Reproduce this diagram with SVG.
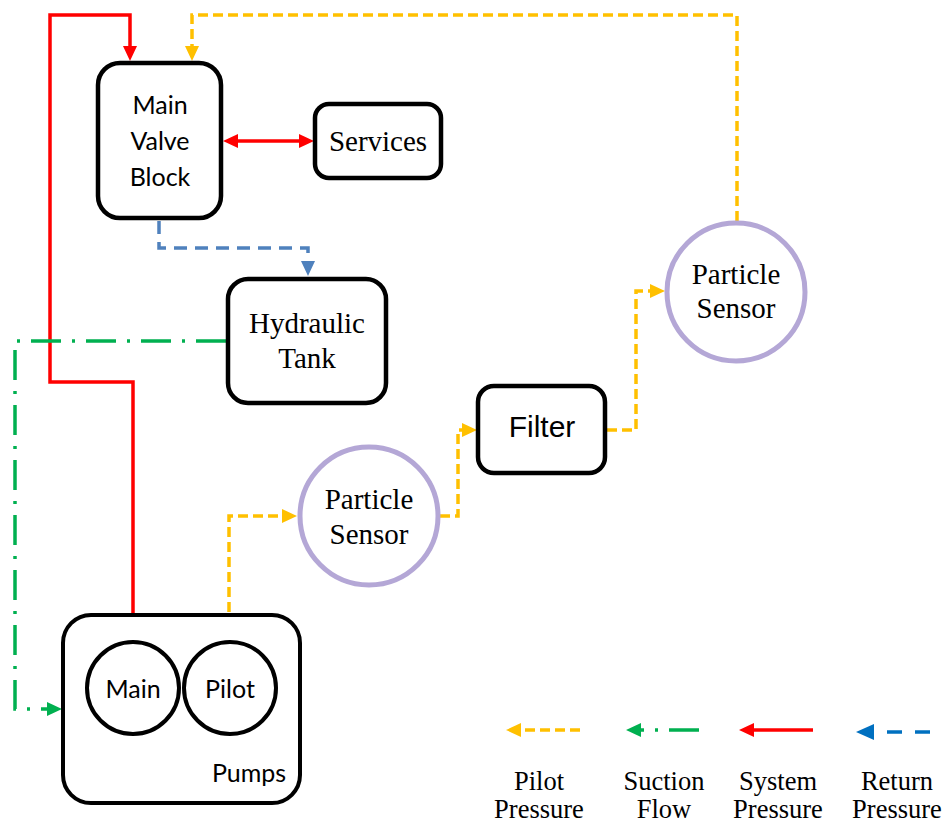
<svg xmlns="http://www.w3.org/2000/svg" width="947" height="825" viewBox="0 0 947 825">
  <style>
    .box { fill: #fff; stroke: #000; stroke-width: 4.5; }
    .pump { fill: #fff; stroke: #000; stroke-width: 4; }
    .sensor { fill: #fff; stroke: #B4A7D6; stroke-width: 5; }
    .sans { font-family: Lato, "Open Sans", sans-serif; font-size: 25px; fill: #000; text-anchor: middle; }
    .serif { font-family: "Liberation Serif", "Times New Roman", serif; font-size: 29px; fill: #000; text-anchor: middle; }
    .key { font-family: "Liberation Serif", "Times New Roman", serif; font-size: 26.5px; fill: #000; text-anchor: middle; }
    .arial { font-family: "Liberation Sans", Arial, sans-serif; font-size: 30px; fill: #000; text-anchor: middle; }
    .sys { fill: none; stroke: #FF0000; stroke-width: 3.5; }
    .pilot { fill: none; stroke: #FFC000; stroke-width: 3.5; stroke-dasharray: 10 5; }
    .ret { fill: none; stroke: #4F81BD; stroke-width: 3.5; stroke-dasharray: 13 8; }
    .suc { fill: none; stroke: #00B050; stroke-width: 3.5; stroke-dasharray: 30 11 3 11; }
  </style>
  <defs>
    <marker id="ah-red" markerUnits="userSpaceOnUse" markerWidth="15" markerHeight="14" refX="1" refY="7" orient="auto-start-reverse">
      <path d="M0,0 L15,7 L0,14 z" fill="#FF0000"/>
    </marker>
    <marker id="ah-yel" markerUnits="userSpaceOnUse" markerWidth="15" markerHeight="14" refX="1" refY="7" orient="auto">
      <path d="M0,0 L15,7 L0,14 z" fill="#FFC000"/>
    </marker>
    <marker id="ah-blu" markerUnits="userSpaceOnUse" markerWidth="15" markerHeight="14" refX="1" refY="7" orient="auto">
      <path d="M0,0 L15,7 L0,14 z" fill="#4F81BD"/>
    </marker>
    <marker id="ah-grn" markerUnits="userSpaceOnUse" markerWidth="15" markerHeight="14" refX="1" refY="7" orient="auto">
      <path d="M0,0 L15,7 L0,14 z" fill="#00B050"/>
    </marker>
    <marker id="ah-lblu" markerUnits="userSpaceOnUse" markerWidth="18" markerHeight="16" refX="1" refY="8" orient="auto">
      <path d="M0,0 L18,8 L0,16 z" fill="#0070C0"/>
    </marker>
  </defs>

  <!-- flow lines -->
  <g id="connectors">
    <path class="sys" d="M133,642 V382 H50 V15 H130 V47" marker-end="url(#ah-red)"/>
    <path class="sys" d="M237,141 H300" marker-start="url(#ah-red)" marker-end="url(#ah-red)"/>
    <path class="pilot" d="M737,221 V15 H192 V47" marker-end="url(#ah-yel)"/>
    <path class="ret" d="M159,221 V248 H308 V262" marker-end="url(#ah-blu)"/>
    <path class="suc" d="M226,341 H15 V709 H48" marker-end="url(#ah-grn)"/>
    <path class="pilot" d="M229,642 V516 H283" marker-end="url(#ah-yel)"/>
    <path class="pilot" d="M440,516 H458 V430 H463" marker-end="url(#ah-yel)"/>
    <path class="pilot" d="M607,430 H636 V291 H651" marker-end="url(#ah-yel)"/>
  </g>

  <g id="main-valve-block">
    <rect class="box" x="98" y="63" width="123" height="155" rx="22"/>
    <text class="sans" x="160" y="114">Main</text>
    <text class="sans" x="160" y="150">Valve</text>
    <text class="sans" x="160" y="186">Block</text>
  </g>

  <g id="services">
    <rect class="box" x="315" y="104" width="126" height="74" rx="14"/>
    <text class="serif" x="378" y="151">Services</text>
  </g>

  <g id="hydraulic-tank">
    <rect class="box" x="228" y="279" width="158" height="124" rx="20"/>
    <text class="serif" x="307" y="333">Hydraulic</text>
    <text class="serif" x="307" y="368">Tank</text>
  </g>

  <g id="filter">
    <rect class="box" x="478" y="386" width="127" height="87" rx="16"/>
    <text class="arial" x="542" y="437">Filter</text>
  </g>

  <g id="particle-sensor-1">
    <circle class="sensor" cx="369" cy="516" r="69"/>
    <text class="serif" x="369" y="509">Particle</text>
    <text class="serif" x="369" y="544">Sensor</text>
  </g>

  <g id="particle-sensor-2">
    <circle class="sensor" cx="736" cy="292" r="69"/>
    <text class="serif" x="736" y="284">Particle</text>
    <text class="serif" x="736" y="318">Sensor</text>
  </g>

  <g id="pumps">
    <rect class="pump" x="63" y="615" width="237" height="188" rx="28"/>
    <circle class="pump" cx="133" cy="688" r="46"/>
    <circle class="pump" cx="230" cy="688" r="46"/>
    <text class="sans" x="133" y="698">Main</text>
    <text class="sans" x="230" y="698">Pilot</text>
    <text class="sans" x="249" y="782">Pumps</text>
  </g>

  <!-- key -->
  <g id="legend">
    <path class="pilot" d="M580,730 H520" marker-end="url(#ah-yel)"/>
    <path class="suc" d="M699,730 H640" stroke-dasharray="31 14 3 14" marker-end="url(#ah-grn)"/>
    <path class="sys" d="M813,730 H753" marker-end="url(#ah-red)"/>
    <path d="M930,732 H873" fill="none" stroke="#0070C0" stroke-width="3.5" stroke-dasharray="15 13" marker-end="url(#ah-lblu)"/>
    <text class="key" x="539" y="790">Pilot</text>
    <text class="key" x="539" y="818">Pressure</text>
    <text class="key" x="664" y="790">Suction</text>
    <text class="key" x="664" y="818">Flow</text>
    <text class="key" x="778" y="790">System</text>
    <text class="key" x="778" y="818">Pressure</text>
    <text class="key" x="897" y="790">Return</text>
    <text class="key" x="897" y="818">Pressure</text>
  </g>
</svg>
